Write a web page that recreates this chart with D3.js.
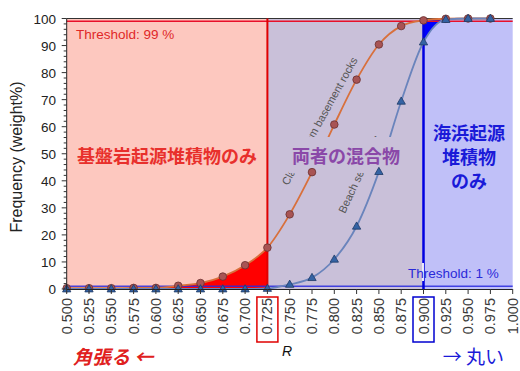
<!DOCTYPE html>
<html>
<head>
<meta charset="utf-8">
<script src="https://cdn.jsdelivr.net/npm/d3@7"></script>
<style>
  body { margin: 0; background: #fff; }
  svg text { font-family: "Liberation Sans", Arial, sans-serif; }
  .jp { font-family: "Noto Sans CJK JP", sans-serif; font-weight: bold; }
</style>
</head>
<body>
<svg id="chart" width="520" height="371"></svg>
<script>
// roundness classes (R)
const rValues = [0.500, 0.525, 0.550, 0.575, 0.600, 0.625, 0.650, 0.675, 0.700, 0.725,
  0.750, 0.775, 0.800, 0.825, 0.850, 0.875, 0.900, 0.925, 0.950, 0.975];
// cumulative frequency (weight%)
const basement = [0.3, 0.3, 0.3, 0.4, 0.4, 1.2, 2.2, 4.6, 8.8, 15.3,
  27.6, 43.2, 60.8, 77.4, 90.4, 97.2, 99.3, 99.9, 100, 100];
const beach = [0, 0, 0, 0, 0, 0, 0, 0, 0, 0.2,
  1.7, 4.2, 11.0, 23.2, 43.4, 69.4, 91.3, 99.6, 100, 100];
const xTicks = d3.range(0, 21).map(i => 0.5 + i * 0.025);
const yTicks = [0, 10, 20, 30, 40, 50, 60, 70, 80, 90, 100];
const thresholdHigh = 99, thresholdLow = 1;
const rLow = 0.725, rHigh = 0.900;

const svg = d3.select("#chart");
const x = d3.scaleLinear().domain([0.5, 1.0]).range([66.7, 512.7]);
const y = d3.scaleLinear().domain([0, 100]).range([289, 18.5]);

// background zones
svg.append("rect").attr("x", x(0.5)).attr("y", y(100))
  .attr("width", x(rLow) - x(0.5)).attr("height", y(0) - y(100)).attr("fill", "#fdc8bf");
svg.append("rect").attr("x", x(rLow)).attr("y", y(100))
  .attr("width", x(rHigh) - x(rLow)).attr("height", y(0) - y(100)).attr("fill", "#c9c0d9");
svg.append("rect").attr("x", x(rHigh)).attr("y", y(100))
  .attr("width", x(1.0) - x(rHigh)).attr("height", y(0) - y(100)).attr("fill", "#c0c0f8");

const pts1 = rValues.map((r, i) => [r, basement[i]]);
const pts2 = rValues.map((r, i) => [r, beach[i]]);

const defs = svg.append("defs");
defs.append("clipPath").attr("id", "clipL").append("rect")
  .attr("x", x(0.5)).attr("y", 0).attr("width", x(rLow) - x(0.5)).attr("height", 371);
defs.append("clipPath").attr("id", "clipR").append("rect")
  .attr("x", x(rHigh)).attr("y", 0).attr("width", x(1.0) - x(rHigh)).attr("height", 371);

// misclassification areas
svg.append("path").datum(pts1)
  .attr("clip-path", "url(#clipL)")
  .attr("fill", "#ff0000")
  .attr("d", d3.area().curve(d3.curveMonotoneX)
    .x(d => x(d[0])).y0(y(0)).y1(d => y(d[1])));
svg.append("path").datum(pts2)
  .attr("clip-path", "url(#clipR)")
  .attr("fill", "#0000ff")
  .attr("d", d3.area().curve(d3.curveMonotoneX)
    .x(d => x(d[0])).y0(y(100)).y1(d => y(d[1])));

// frame top
svg.append("line").attr("x1", x(0.5)).attr("x2", x(1.0))
  .attr("y1", y(100)).attr("y2", y(100)).attr("stroke", "#333").attr("stroke-width", 1);

// threshold lines
svg.append("line").attr("x1", x(0.5)).attr("x2", x(1.0))
  .attr("y1", y(thresholdHigh)).attr("y2", y(thresholdHigh))
  .attr("stroke", "#e8102a").attr("stroke-width", 1.5);
svg.append("line").attr("x1", x(0.5)).attr("x2", x(1.0))
  .attr("y1", y(thresholdLow)).attr("y2", y(thresholdLow))
  .attr("stroke", "#2a2ae0").attr("stroke-width", 1.5).attr("opacity", 0.85);
svg.append("line").attr("x1", x(rLow)).attr("x2", x(rLow))
  .attr("y1", y(100)).attr("y2", y(0))
  .attr("stroke", "#e00000").attr("stroke-width", 2);
svg.append("line").attr("x1", x(rHigh)).attr("x2", x(rHigh))
  .attr("y1", y(100)).attr("y2", y(0))
  .attr("stroke", "#0000e0").attr("stroke-width", 2.5);
svg.append("line").attr("x1", x(rHigh) - 0.5).attr("x2", x(rHigh) - 0.5)
  .attr("y1", 263).attr("y2", 281)
  .attr("stroke", "#fff").attr("stroke-width", 1.8);

// curves
const line = d3.line().curve(d3.curveMonotoneX).x(d => x(d[0])).y(d => y(d[1]));
svg.append("path").datum(pts1).attr("fill", "none")
  .attr("stroke", "#d8703c").attr("stroke-width", 1.8).attr("d", line);
svg.append("path").datum(pts2).attr("fill", "none")
  .attr("stroke", "#6a84bc").attr("stroke-width", 1.8).attr("d", line);

// curve labels
svg.append("text").attr("transform", "translate(288,186) rotate(-61)")
  .attr("font-size", 11).attr("fill", "#555").text("Clastics from basement rocks");
svg.append("text").attr("transform", "translate(345,214) rotate(-65)")
  .attr("font-size", 11).attr("fill", "#555").text("Beach sediments");

// mixture label with its box
svg.append("rect").attr("x", 289).attr("y", 137).attr("width", 116).attr("height", 36)
  .attr("fill", "#c9c0d9");
svg.append("text").attr("class", "jp").attr("x", 346).attr("y", 163)
  .attr("text-anchor", "middle").attr("font-size", 18).attr("fill", "#8a48a8")
  .text("両者の混合物");

// markers
svg.append("g").selectAll("circle").data(pts1).join("circle")
  .attr("cx", d => x(d[0])).attr("cy", d => y(d[1])).attr("r", 3.8)
  .attr("fill", "#a85454").attr("stroke", "#6a3030").attr("stroke-width", 0.8);
svg.append("g").selectAll("path").data(pts2).join("path")
  .attr("transform", d => `translate(${x(d[0])},${y(d[1]) + 0.5})`)
  .attr("d", d3.symbol(d3.symbolTriangle, 30))
  .attr("fill", "#3463a4").attr("stroke", "#1e3a66").attr("stroke-width", 0.8);

// zone labels
svg.append("text").attr("class", "jp").attr("x", 167).attr("y", 163)
  .attr("text-anchor", "middle").attr("font-size", 18).attr("fill", "#e8302c")
  .text("基盤岩起源堆積物のみ");
svg.append("text").attr("class", "jp").attr("x", 469).attr("y", 140)
  .attr("text-anchor", "middle").attr("font-size", 18).attr("fill", "#1a1ad8")
  .selectAll("tspan").data(["海浜起源", "堆積物", "のみ"]).join("tspan")
  .attr("x", 469).attr("dy", (d, i) => i ? 24 : 0).text(d => d);

svg.append("text").attr("x", 76).attr("y", 39).attr("font-size", 13.5)
  .attr("fill", "#e02828").text("Threshold: 99 %");
svg.append("text").attr("x", 408).attr("y", 278).attr("font-size", 13.5)
  .attr("fill", "#2a2ad8").text("Threshold: 1 %");

// axes
svg.append("line").attr("x1", x(0.5)).attr("x2", x(0.5))
  .attr("y1", y(100)).attr("y2", y(0)).attr("stroke", "#222");
svg.append("line").attr("x1", x(0.5)).attr("x2", x(1.0))
  .attr("y1", y(0) + 0.5).attr("y2", y(0) + 0.5).attr("stroke", "#222");

svg.append("g").selectAll("line").data(d3.range(0, 101, 2)).join("line")
  .attr("x1", x(0.5)).attr("x2", d => x(0.5) - (d % 10 === 0 ? 5 : 3))
  .attr("y1", d => y(d)).attr("y2", d => y(d)).attr("stroke", "#333");
svg.append("g").selectAll("text").data(yTicks).join("text")
  .attr("x", 56).attr("y", d => y(d) + 5).attr("text-anchor", "end")
  .attr("font-size", 13.5).attr("fill", "#222").text(d => d);

svg.append("g").selectAll("line").data(xTicks).join("line")
  .attr("x1", d => x(d)).attr("x2", d => x(d))
  .attr("y1", y(0)).attr("y2", y(0) + 5).attr("stroke", "#333");
svg.append("g").selectAll("text").data(xTicks).join("text")
  .attr("transform", d => `translate(${x(d) + 5},298) rotate(-90)`)
  .attr("text-anchor", "end").attr("font-size", 14.5).attr("fill", "#3a3a3a")
  .text(d => d.toFixed(3));

// highlight boxes for thresholds
svg.append("rect").attr("x", x(rLow) - 10.5).attr("y", 297).attr("width", 21).attr("height", 45)
  .attr("fill", "none").attr("stroke", "#e00000").attr("stroke-width", 1.5);
svg.append("rect").attr("x", x(rHigh) - 10.5).attr("y", 297).attr("width", 21).attr("height", 45)
  .attr("fill", "none").attr("stroke", "#0000d0").attr("stroke-width", 1.5);

svg.append("text").attr("transform", "translate(22,157) rotate(-90)")
  .attr("text-anchor", "middle").attr("font-size", 16).attr("fill", "#222")
  .text("Frequency (weight%)");
svg.append("text").attr("x", 287).attr("y", 356).attr("text-anchor", "middle")
  .attr("font-size", 14).attr("font-style", "italic").attr("fill", "#111").text("R");

svg.append("text").attr("class", "jp").attr("x", 73).attr("y", 364)
  .attr("font-size", 19).attr("font-style", "italic").attr("fill", "#e02020")
  .text("角張る ←");
svg.append("text").attr("x", 504).attr("y", 364)
  .attr("text-anchor", "end").attr("font-size", 19)
  .style("font-family", "'Noto Sans CJK JP', sans-serif").style("font-weight", "normal")
  .attr("fill", "#1a1ad8").text("→  丸い");
</script>
</body>
</html>
